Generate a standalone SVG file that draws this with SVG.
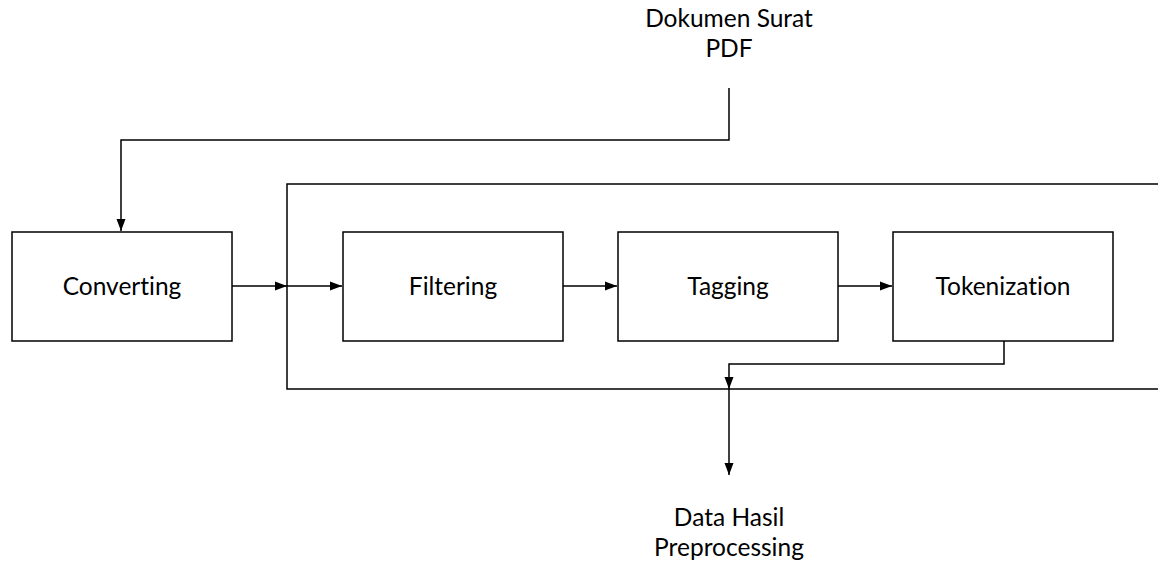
<svg xmlns="http://www.w3.org/2000/svg" width="1158" height="563" viewBox="0 0 1158 563">
<style>
.box{fill:#fff;stroke:#000;stroke-width:1.5}
.ln{fill:none;stroke:#000;stroke-width:1.5}
.t{font-family:Lato,"Liberation Sans",sans-serif;font-size:24.5px;font-weight:400;fill:#000;text-anchor:middle;font-variant-ligatures:none}
</style>
<defs>
<marker id="ah" markerWidth="12" markerHeight="12" refX="12" refY="6" orient="auto" markerUnits="userSpaceOnUse">
<path d="M0,1.5 L12,6 L0,10.5 Z" fill="#000"/>
</marker>
</defs>
<rect width="1158" height="563" fill="#fff"/>
<g id="container">
<path class="ln" d="M1160,184 H287 V389 H1160"/>
</g>
<g id="converting"><rect class="box" x="12" y="232" width="220" height="109"/><text class="t" x="122" y="295">Converting</text></g>
<g id="filtering"><rect class="box" x="343" y="232" width="220" height="109"/><text class="t" x="453" y="295">Filtering</text></g>
<g id="tagging"><rect class="box" x="618" y="232" width="220" height="109"/><text class="t" x="728" y="295">Tagging</text></g>
<g id="tokenization"><rect class="box" x="893" y="232" width="220" height="109"/><text class="t" x="1003" y="295">Tokenization</text></g>
<g id="input"><text class="t" x="729" y="27">Dokumen Surat</text><text class="t" x="729" y="57">PDF</text></g>
<g id="output"><text class="t" x="729" y="526">Data Hasil</text><text class="t" x="729" y="556">Preprocessing</text></g>
<g id="connectors">
<path class="ln" d="M729,88 V140 H121 V231" marker-end="url(#ah)"/>
<path class="ln" d="M232,286 H287" marker-end="url(#ah)"/>
<path class="ln" d="M287,286 H342" marker-end="url(#ah)"/>
<path class="ln" d="M563,286 H617" marker-end="url(#ah)"/>
<path class="ln" d="M838,286 H892" marker-end="url(#ah)"/>
<path class="ln" d="M1004,341 V364 H729 V389" marker-end="url(#ah)"/>
<path class="ln" d="M729,389 V475" marker-end="url(#ah)"/>
</g>
</svg>
